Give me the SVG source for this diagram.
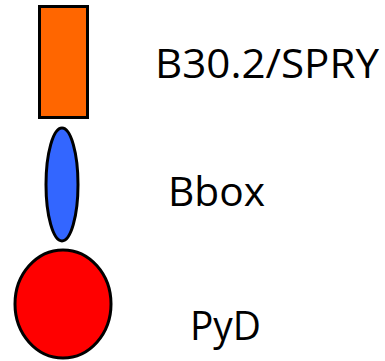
<svg xmlns="http://www.w3.org/2000/svg" width="385" height="361" viewBox="0 0 385 361">
<style>
.shape{stroke:#000;stroke-width:3}
.lbl{font-family:"Open Sans","Liberation Sans",sans-serif;font-size:40px;fill:#000}
</style>
<rect width="385" height="361" fill="#fff"/>
<g id="spry">
<rect class="shape" x="39.5" y="6.5" width="48" height="111" fill="#ff6600"/>
<text class="lbl" x="155" y="78" textLength="224" lengthAdjust="spacingAndGlyphs">B30.2/SPRY</text>
</g>
<g id="bbox">
<ellipse class="shape" cx="62" cy="184.5" rx="16" ry="56.5" fill="#3366ff"/>
<text class="lbl" x="168" y="205.5" textLength="97" lengthAdjust="spacingAndGlyphs">Bbox</text>
</g>
<g id="pyd">
<ellipse class="shape" cx="63" cy="304" rx="48" ry="54" fill="#ff0000"/>
<text class="lbl" x="190" y="339.5" textLength="71" lengthAdjust="spacingAndGlyphs">PyD</text>
</g>
<g id="connectors"></g>
</svg>
